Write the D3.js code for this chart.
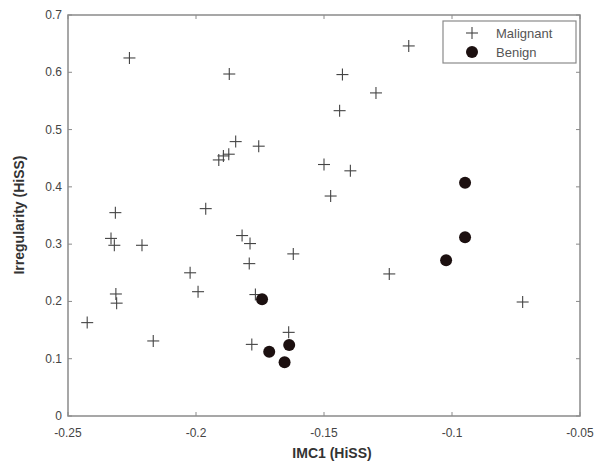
<!DOCTYPE html>
<html>
<head>
    <meta charset="UTF-8">
    <title>IMC1 vs Irregularity</title>
    <script src="https://d3js.org/d3.v7.min.js"></script>
    <style>
        body { margin: 0; background: #fff; }
        text { font-family: "Liberation Sans", Arial, sans-serif; fill: #444; }
        .frame { fill: none; stroke: #8a8a8a; stroke-width: 1.5px; }
        .tick-mark { stroke: #8a8a8a; stroke-width: 1px; }
        .tick-label { font-size: 12px; }
        .axis-title { font-size: 14px; font-weight: bold; fill: #333; }
        .plus { stroke: #444; stroke-width: 1.1px; }
        .dot { fill: #1c1010; }
        .legend-box { fill: #fff; stroke: #8a8a8a; stroke-width: 1.2px; }
        .legend-text { font-size: 13px; fill: #555; }
    </style>
</head>
<body>
<div id="chart"></div>
<script>
    // 数据：恶性（+）和良性（●）
    const malignantX = [-0.226, -0.187, -0.1845, -0.1911, -0.1893, -0.1872, -0.1755, -0.1962,
        -0.2315, -0.2332, -0.2319, -0.2211, -0.182, -0.1789, -0.1792, -0.162, -0.2023,
        -0.1992, -0.2313, -0.231, -0.2425, -0.2167, -0.1768, -0.1782, -0.1638,
        -0.1169, -0.1428, -0.1297, -0.1439, -0.150, -0.1397, -0.1474, -0.1245, -0.0724];
    const malignantY = [0.625, 0.597, 0.479, 0.447, 0.454, 0.457, 0.471, 0.362,
        0.355, 0.310, 0.298, 0.298, 0.315, 0.301, 0.266, 0.283, 0.250,
        0.217, 0.213, 0.197, 0.163, 0.131, 0.212, 0.125, 0.146,
        0.646, 0.596, 0.564, 0.533, 0.439, 0.428, 0.384, 0.248, 0.199];
    const benignX = [-0.1742, -0.1714, -0.1654, -0.1636, -0.0949, -0.0949, -0.1023];
    const benignY = [0.204, 0.112, 0.094, 0.124, 0.407, 0.312, 0.272];

    const xTicks = [-0.25, -0.2, -0.15, -0.1, -0.05];
    const yTicks = [0, 0.1, 0.2, 0.3, 0.4, 0.5, 0.6, 0.7];
    const legendLabels = ["Malignant", "Benign"];

    const width = 600, height = 470;
    const plot = {left: 68, right: 580, top: 15, bottom: 416};

    const svg = d3.select("#chart").append("svg")
        .attr("width", width)
        .attr("height", height);

    const x = d3.scaleLinear().domain([-0.25, -0.05]).range([plot.left, plot.right]);
    const y = d3.scaleLinear().domain([0, 0.7]).range([plot.bottom, plot.top]);

    // 刻度（向内，四边）
    const tickLen = 4;
    const g = svg.append("g");
    xTicks.forEach(t => {
        g.append("line").attr("class", "tick-mark")
            .attr("x1", x(t)).attr("x2", x(t))
            .attr("y1", plot.bottom).attr("y2", plot.bottom - tickLen);
        g.append("line").attr("class", "tick-mark")
            .attr("x1", x(t)).attr("x2", x(t))
            .attr("y1", plot.top).attr("y2", plot.top + tickLen);
        g.append("text").attr("class", "tick-label")
            .attr("x", x(t)).attr("y", plot.bottom + 21)
            .attr("text-anchor", "middle")
            .text(t);
    });
    yTicks.forEach(t => {
        g.append("line").attr("class", "tick-mark")
            .attr("x1", plot.left).attr("x2", plot.left + tickLen)
            .attr("y1", y(t)).attr("y2", y(t));
        g.append("line").attr("class", "tick-mark")
            .attr("x1", plot.right).attr("x2", plot.right - tickLen)
            .attr("y1", y(t)).attr("y2", y(t));
        g.append("text").attr("class", "tick-label")
            .attr("x", plot.left - 6).attr("y", y(t) + 4)
            .attr("text-anchor", "end")
            .text(t);
    });

    svg.append("rect").attr("class", "frame")
        .attr("x", plot.left).attr("y", plot.top)
        .attr("width", plot.right - plot.left)
        .attr("height", plot.bottom - plot.top);

    // 加号标记
    const arm = 6;
    function plus(sel, cx, cy) {
        sel.append("line").attr("class", "plus")
            .attr("x1", cx - arm).attr("x2", cx + arm).attr("y1", cy).attr("y2", cy);
        sel.append("line").attr("class", "plus")
            .attr("x1", cx).attr("x2", cx).attr("y1", cy - arm).attr("y2", cy + arm);
    }

    const marks = svg.append("g");
    malignantX.forEach((v, i) => plus(marks, x(v), y(malignantY[i])));

    marks.selectAll(".dot")
        .data(benignX.map((v, i) => [v, benignY[i]]))
        .join("circle")
        .attr("class", "dot")
        .attr("cx", d => x(d[0]))
        .attr("cy", d => y(d[1]))
        .attr("r", 6);

    // 轴标题
    svg.append("text").attr("class", "axis-title")
        .attr("x", 332).attr("y", 458)
        .attr("text-anchor", "middle")
        .text("IMC1 (HiSS)");
    svg.append("text").attr("class", "axis-title")
        .attr("transform", "translate(24,215) rotate(-90)")
        .attr("text-anchor", "middle")
        .text("Irregularity (HiSS)");

    // 图例
    const legend = svg.append("g");
    legend.append("rect").attr("class", "legend-box")
        .attr("x", 443).attr("y", 21).attr("width", 133).attr("height", 42);
    plus(legend, 472, 33);
    legend.append("circle").attr("class", "dot").attr("cx", 472).attr("cy", 52).attr("r", 6);
    legend.append("text").attr("class", "legend-text")
        .attr("x", 496).attr("y", 38).text(legendLabels[0]);
    legend.append("text").attr("class", "legend-text")
        .attr("x", 496).attr("y", 57).text(legendLabels[1]);
</script>
</body>
</html>
